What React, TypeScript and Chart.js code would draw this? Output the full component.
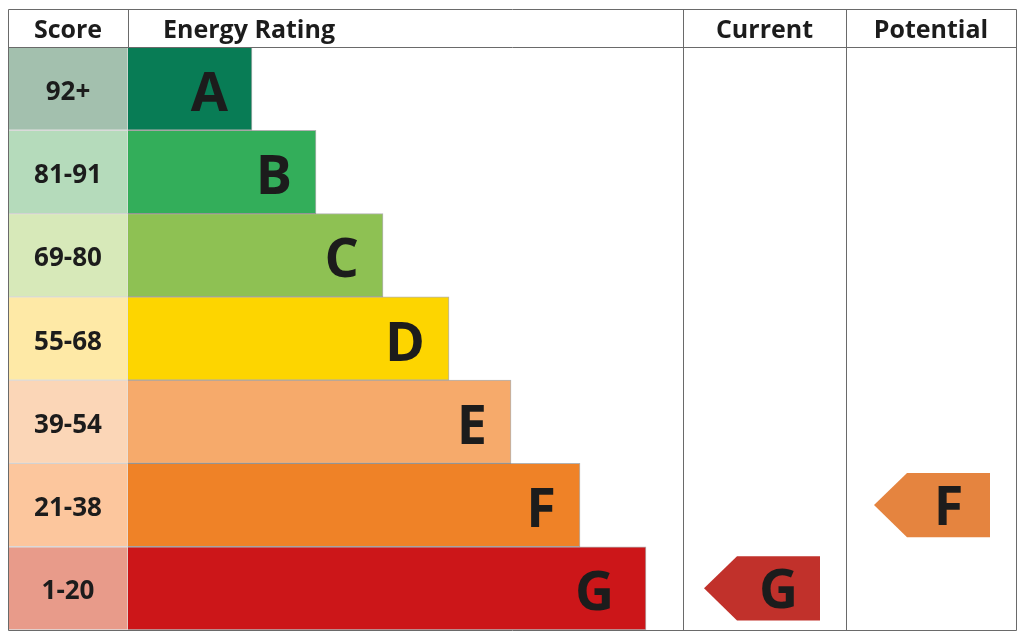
import { useEffect, useRef } from 'react';
import { Chart, registerables } from 'chart.js';

Chart.register(...registerables);

// rating bands, top (best) to bottom (worst)
const ratings = ['A', 'B', 'C', 'D', 'E', 'F', 'G'];
const scoreBands = ['92+', '81-91', '69-80', '55-68', '39-54', '21-38', '1-20'];
const barLength = [124, 188, 255, 321, 383, 452, 518];
const bandColours = ['#087c55', '#33ae5a', '#8ec153', '#fdd500', '#f6aa6b', '#ef8227', '#cc1619'];
const scoreColours = ['#a3c0ae', '#b5dbbb', '#d7e9b9', '#fee9a6', '#fbd6b7', '#fcc69d', '#e89b8a'];
const currentRating = 'G';
const potentialRating = 'F';
const currentColour = '#c1312b';
const potentialColour = '#e5843f';

// table layout, in x-axis units
const SCORE_COL = 120;
const CURRENT_COL: [number, number] = [675, 838];
const POTENTIAL_COL: [number, number] = [838, 1008];
const FONT = '"Open Sans", "Noto Sans", sans-serif';
const INK = '#1c1c1c';

const epcTable = {
  id: 'epcTable',
  afterDatasetsDraw(chart: Chart) {
    const { ctx, chartArea } = chart;
    const x = chart.scales.x;
    const y = chart.scales.y;
    const rowH = chartArea.height / ratings.length;
    const top = 9.5;
    const headerBottom = chartArea.top + 0.5;

    ctx.save();

    // score and band letters
    ctx.fillStyle = INK;
    ratings.forEach((r, i) => {
      const cy = y.getPixelForValue(i);
      ctx.font = `bold 26px ${FONT}`;
      ctx.textAlign = 'center';
      ctx.textBaseline = 'alphabetic';
      ctx.fillText(scoreBands[i], x.getPixelForValue(SCORE_COL / 2), cy + 11);
      ctx.font = `bold 54px ${FONT}`;
      ctx.textAlign = 'right';
      const pad = r === 'G' ? 32 : 24;
      ctx.fillText(r, x.getPixelForValue(SCORE_COL + barLength[i]) - pad, cy + 22);
    });

    // arrows for current and potential ratings
    const drawArrow = (rating: string, col: [number, number], colour: string) => {
      const i = ratings.indexOf(rating);
      const cy = y.getPixelForValue(i);
      const h = rowH * 0.77;
      const right = x.getPixelForValue(col[1] - 26);
      const left = right - 116;
      const tip = 33;
      ctx.fillStyle = colour;
      ctx.beginPath();
      ctx.moveTo(left, cy);
      ctx.lineTo(left + tip, cy - h / 2);
      ctx.lineTo(right, cy - h / 2);
      ctx.lineTo(right, cy + h / 2);
      ctx.lineTo(left + tip, cy + h / 2);
      ctx.closePath();
      ctx.fill();
      ctx.fillStyle = INK;
      ctx.font = `bold 54px ${FONT}`;
      ctx.textAlign = 'center';
      ctx.fillText(rating, (left + tip + right) / 2, cy + 20);
    };
    drawArrow(currentRating, CURRENT_COL, currentColour);
    drawArrow(potentialRating, POTENTIAL_COL, potentialColour);

    // grid lines
    ctx.strokeStyle = '#6a6a6a';
    ctx.lineWidth = 1;
    ctx.beginPath();
    const l = Math.round(chartArea.left) + 0.5;
    const rgt = Math.round(chartArea.right) + 0.5;
    const btm = Math.round(chartArea.bottom) + 0.5;
    ctx.rect(l, top, rgt - l, btm - top);
    ctx.moveTo(l, headerBottom);
    ctx.lineTo(rgt, headerBottom);
    const sx = Math.round(x.getPixelForValue(SCORE_COL)) + 0.5;
    ctx.moveTo(sx, top);
    ctx.lineTo(sx, headerBottom);
    [CURRENT_COL[0], POTENTIAL_COL[0]].forEach(v => {
      const px = Math.round(x.getPixelForValue(v)) + 0.5;
      ctx.moveTo(px, top);
      ctx.lineTo(px, btm);
    });
    ctx.stroke();

    // header
    ctx.fillStyle = INK;
    ctx.font = `bold 25px ${FONT}`;
    ctx.textBaseline = 'alphabetic';
    const hy = 38;
    ctx.textAlign = 'center';
    ctx.fillText('Score', x.getPixelForValue(SCORE_COL / 2), hy);
    ctx.fillText('Current', x.getPixelForValue((CURRENT_COL[0] + CURRENT_COL[1]) / 2), hy);
    ctx.fillText('Potential', x.getPixelForValue((POTENTIAL_COL[0] + POTENTIAL_COL[1]) / 2), hy);
    ctx.textAlign = 'left';
    ctx.fillText('Energy Rating', x.getPixelForValue(SCORE_COL + 35), hy);

    ctx.restore();
  },
};

export default function App() {
  const chartRef = useRef<HTMLCanvasElement>(null);
  const chartInstance = useRef<Chart | null>(null);

  useEffect(() => {
    if (!chartRef.current) return;
    if (chartInstance.current) {
      chartInstance.current.destroy();
    }
    const ctx = chartRef.current.getContext('2d');
    if (!ctx) return;

    chartInstance.current = new Chart(ctx, {
      type: 'bar',
      data: {
        labels: ratings,
        datasets: [
          {
            label: 'Score',
            data: ratings.map(() => [0, SCORE_COL]),
            backgroundColor: scoreColours,
            borderColor: 'rgba(0,0,0,0.12)',
            borderWidth: 1,
            grouped: false,
            barPercentage: 1,
            categoryPercentage: 1,
          },
          {
            label: 'Energy Rating',
            data: barLength.map(v => [SCORE_COL, SCORE_COL + v]),
            backgroundColor: bandColours,
            borderColor: 'rgba(0,0,0,0.3)',
            borderWidth: 1,
            grouped: false,
            barPercentage: 1,
            categoryPercentage: 1,
          },
        ] as any,
      },
      options: {
        indexAxis: 'y',
        responsive: true,
        maintainAspectRatio: false,
        animation: false,
        layout: { padding: { left: 8, right: 8, top: 47, bottom: 10 } },
        scales: {
          x: { type: 'linear', min: 0, max: 1008, display: false },
          y: { type: 'category', display: false },
        },
        plugins: {
          legend: { display: false },
          tooltip: { enabled: false },
        },
      },
      plugins: [epcTable],
    });

    return () => {
      if (chartInstance.current) {
        chartInstance.current.destroy();
        chartInstance.current = null;
      }
    };
  }, []);

  return (
    <div style={{ position: 'fixed', left: 0, top: 0, width: '1024px', height: '640px', background: '#fff' }}>
      <canvas ref={chartRef}></canvas>
    </div>
  );
}
